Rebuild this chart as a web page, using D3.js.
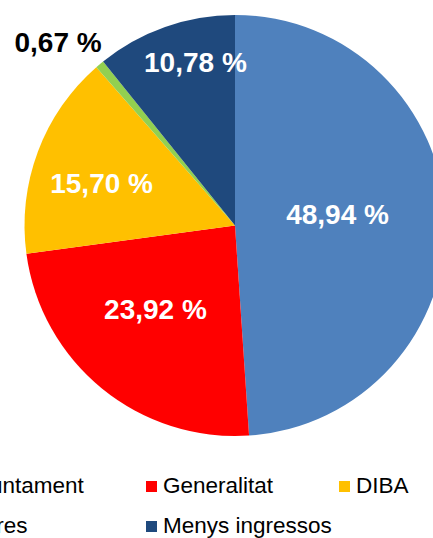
<!DOCTYPE html>
<html>
<head>
<meta charset="utf-8">
<script src="https://cdn.jsdelivr.net/npm/d3@7"></script>
<style>
  body { margin: 0; background: #fff; }
  svg { display: block; font-family: Arial, "Liberation Sans", sans-serif; }
</style>
</head>
<body>
<div id="chart"></div>
<script>
// Chart data
var categories = ["Ajuntament", "Generalitat", "DIBA", "Altres", "Menys ingressos"];
var values = [48.94, 23.92, 15.70, 0.67, 10.78];
var colors = ["#4F81BD", "#FF0000", "#FFC000", "#92D050", "#1F497D"];

// Label placement (fraction of radius, angle nudge in degrees), Excel "best fit" look
var labelRadius = [0.49, 0.55, 0.665, 1.21, 0.8];
var labelNudge = [-4.2, 4.2, -2.9, -4, 5.8];

var width = 433, height = 538;
var cx = 235, cy = 225.5, radius = 210.5;

var svg = d3.select("#chart")
    .append("svg")
    .attr("width", width)
    .attr("height", height);

var pie = d3.pie().sort(null).value(function (d) { return d; });
var arcs = pie(values);

var arc = d3.arc().innerRadius(0).outerRadius(radius);

var g = svg.append("g")
    .attr("transform", "translate(" + cx + "," + cy + ")");

// slices
g.selectAll("path.slice")
    .data(arcs)
    .enter().append("path")
    .attr("class", "slice")
    .attr("d", arc)
    .style("fill", function (d, i) { return colors[i]; });

// percentage labels
var fmt = d3.format(".2f");
g.selectAll("text.lbl")
    .data(arcs)
    .enter().append("text")
    .attr("class", "lbl")
    .attr("x", function (d, i) {
        var a = (d.startAngle + d.endAngle) / 2 + labelNudge[i] * Math.PI / 180;
        return Math.sin(a) * radius * labelRadius[i];
    })
    .attr("y", function (d, i) {
        var a = (d.startAngle + d.endAngle) / 2 + labelNudge[i] * Math.PI / 180;
        return -Math.cos(a) * radius * labelRadius[i];
    })
    .attr("dy", "0.35em")
    .style("text-anchor", "middle")
    .style("font-weight", "bold")
    .style("font-size", "28px")
    .style("fill", function (d, i) { return labelRadius[i] > 1 ? "#000" : "#fff"; })
    .text(function (d) { return fmt(d.data).replace(".", ",") + " %"; });

// legend: 3 columns, 2 rows (left column is cut off by the frame, as in the original)
var colX = [-47, 146, 339];
var rowY = [481, 521];
var leg = svg.selectAll("g.legend")
    .data(categories)
    .enter().append("g")
    .attr("class", "legend")
    .attr("transform", function (d, i) {
        return "translate(" + colX[i % 3] + "," + rowY[Math.floor(i / 3)] + ")";
    });

leg.append("rect")
    .attr("width", 11)
    .attr("height", 11)
    .style("fill", function (d, i) { return colors[i]; });

leg.append("text")
    .attr("x", 17)
    .attr("y", 12)
    .style("font-size", "22.5px")
    .style("fill", "#000")
    .text(function (d) { return d; });
</script>
</body>
</html>
